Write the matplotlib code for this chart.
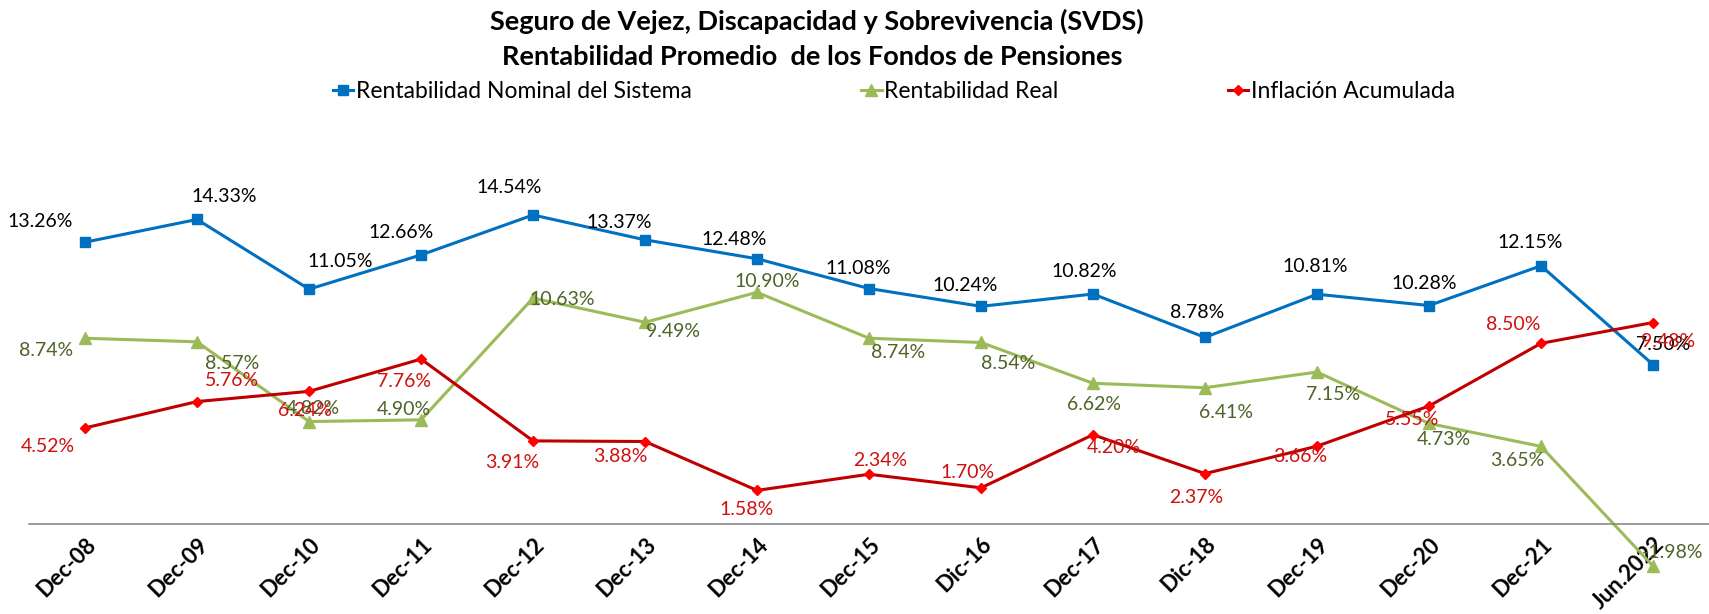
import matplotlib
matplotlib.use('Agg')
import matplotlib.pyplot as plt
import numpy as np

plt.rcParams['font.family'] = ['Lato', 'DejaVu Sans']

periodos = ['Dec-08', 'Dec-09', 'Dec-10', 'Dec-11', 'Dec-12', 'Dec-13', 'Dec-14', 'Dec-15',
            'Dic-16', 'Dec-17', 'Dic-18', 'Dec-19', 'Dec-20', 'Dec-21', 'Jun.2022']
nominal = [13.26, 14.33, 11.05, 12.66, 14.54, 13.37, 12.48, 11.08,
           10.24, 10.82, 8.78, 10.81, 10.28, 12.15, 7.50]
real = [8.74, 8.57, 4.82, 4.90, 10.63, 9.49, 10.90, 8.74,
        8.54, 6.62, 6.41, 7.15, 4.73, 3.65, -1.98]
inflacion = [4.52, 5.76, 6.24, 7.76, 3.91, 3.88, 1.58, 2.34,
             1.70, 4.20, 2.37, 3.66, 5.55, 8.50, 9.48]

# label offsets in pixels (dx right, dy down) from each point
off_nominal = [(-45, -21), (27, -23), (31, -28), (-20, -22), (-24, -27), (-26, -17), (-23, -19), (-11, -20),
               (-16, -21), (-9, -23), (-8, -25), (-2, -28), (-5, -22), (-11, -23), (10, -20)]
off_real = [(-39, 12), (35, 22), (4, -13), (-17, -10), (29, 1), (28, 9), (10, -11), (29, 14),
            (27, 21), (1, 21), (21, 25), (16, 22), (15, 16), (-24, 14), (19, -14)]
off_infl = [(-37, 19), (35, -21), (-4, 19), (-17, 22), (-21, 22), (-25, 15), (-10, 19), (11, -14),
            (-13, -15), (21, 13), (-9, 24), (-17, 10), (-17, 13), (-28, -19), (15, 19)]

fig = plt.figure(figsize=(17.09, 6.14), dpi=100)
ax = fig.add_axes([0.017, 0.0428, 0.983, 0.6576])

x = np.arange(len(periodos))
series = [
    (nominal, 'Rentabilidad Nominal del Sistema', '#0070C0', '#0070C0', 's', 7, '#000000', off_nominal),
    (real, 'Rentabilidad Real', '#9BBB59', '#9BBB59', '^', 8, '#4F6228', off_real),
    (inflacion, 'Inflación Acumulada', '#C00000', '#FF0000', 'D', 5.5, '#D01010', off_infl),
]
for vals, name, lc, mc, mk, ms, tc, offs in series:
    ax.plot(x, vals, color=lc, lw=2.2, marker=mk, markersize=ms,
            markerfacecolor=mc, markeredgecolor=mc, label=name)
    for xi, v, (dx, dy) in zip(x, vals, offs):
        ax.annotate('%.2f%%' % v, (xi, v), xytext=(dx, -dy), textcoords='offset pixels',
                    ha='center', va='center', fontsize=14, color=tc)

ax.set_xlim(-0.5, 14.5)
ax.set_ylim(-3, 16)
ax.set_yticks([])
for s in ['left', 'top', 'right']:
    ax.spines[s].set_visible(False)
ax.spines['bottom'].set_position(('data', 0))
ax.spines['bottom'].set_color('#898989')
ax.spines['bottom'].set_linewidth(1.2)
ax.set_xticks(x)
ax.set_xticklabels(periodos, rotation=45, ha='right', va='top', rotation_mode='anchor',
                   fontsize=16, fontweight='bold')
ax.tick_params(axis='x', length=0, pad=7)

fig.text(0.478, 1 - 21 / 614, 'Seguro de Vejez, Discapacidad y Sobrevivencia (SVDS)',
         ha='center', va='center', fontsize=19.5, fontweight='bold')
fig.text(0.475, 1 - 57 / 614, 'Rentabilidad Promedio  de los Fondos de Pensiones',
         ha='center', va='center', fontsize=19.5, fontweight='bold')

fig.legend(loc='center', bbox_to_anchor=(0.523, 1 - 92 / 614), ncol=3, frameon=False,
           fontsize=16.5, handlelength=0.9, handletextpad=0.1, columnspacing=7.4)

fig.savefig('out.png', dpi=100)
